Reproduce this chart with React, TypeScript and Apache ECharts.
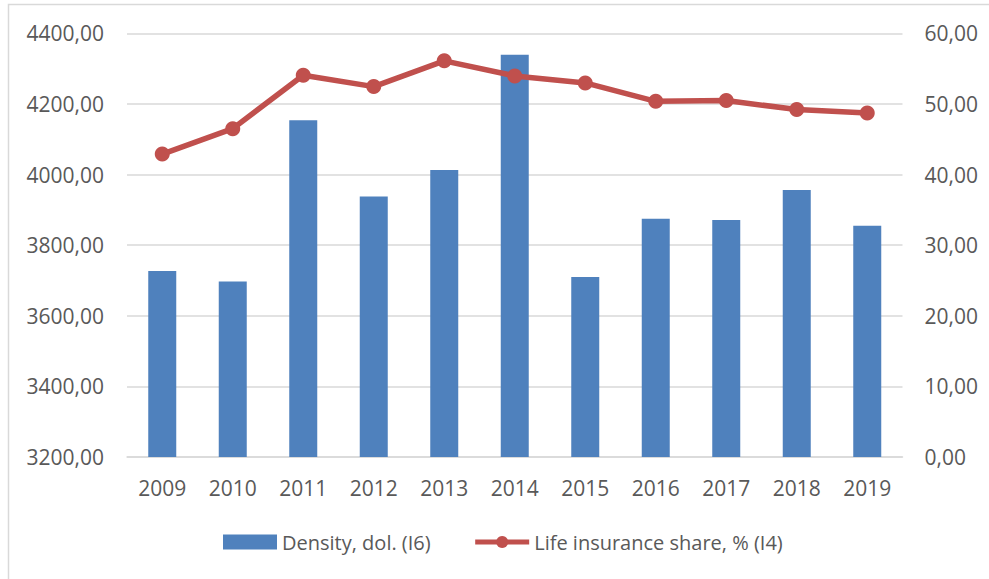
import React, { useEffect, useRef } from "react";
import * as echarts from "echarts";

const years = ["2009", "2010", "2011", "2012", "2013", "2014", "2015", "2016", "2017", "2018", "2019"];
const density = [3727, 3697, 4154, 3938, 4013, 4339, 3710, 3875, 3871, 3956, 3855];
const lifeShare = [42.9, 46.5, 54.05, 52.45, 56.1, 53.96, 52.97, 50.37, 50.47, 49.2, 48.7];
const densityName = "Density, dol. (I6)";
const shareName = "Life insurance share, % (I4)";

const FONT = "'Open Sans', sans-serif";
const TXT = "#595959";
const fmt = (v: number) => v.toFixed(2).replace(".", ",");

export default function App() {
  const ref = useRef<HTMLDivElement>(null);
  useEffect(() => {
    if (!ref.current) return;
    const chart = echarts.init(ref.current, undefined, { renderer: "svg" });
    chart.setOption({
      animation: false,
      backgroundColor: "#ffffff",
      textStyle: { fontFamily: FONT },
      graphic: [
        {
          type: "rect",
          shape: { x: 8.5, y: 4.5, width: 1000, height: 600 },
          style: { fill: "none", stroke: "#d9d9d9", lineWidth: 1.5 },
          silent: true,
        },
      ],
      grid: { left: 127, right: 86.5, top: 33.3, bottom: 122, containLabel: false },
      legend: {
        left: 218,
        top: 527,
        itemWidth: 54,
        itemHeight: 15,
        itemGap: 42,
        textStyle: { color: TXT, fontSize: 20, fontFamily: FONT },
        data: [
          { name: densityName, icon: "rect" },
          { name: shareName, lineStyle: { width: 5, color: "#c0504d" } },
        ],
      },
      xAxis: {
        type: "category",
        data: years,
        axisLine: { lineStyle: { color: "#d9d9d9", width: 1.5 } },
        axisTick: { show: false },
        axisLabel: { color: TXT, fontSize: 21, margin: 20, fontFamily: FONT },
      },
      yAxis: [
        {
          type: "value",
          min: 3200,
          max: 4400,
          interval: 200,
          axisLine: { show: false },
          axisTick: { show: false },
          splitLine: { lineStyle: { color: "#d9d9d9", width: 1.5 } },
          axisLabel: { color: TXT, fontSize: 21, margin: 23, formatter: fmt, fontFamily: FONT },
        },
        {
          type: "value",
          min: 0,
          max: 60,
          interval: 10,
          axisLine: { show: false },
          axisTick: { show: false },
          splitLine: { show: false },
          axisLabel: { color: TXT, fontSize: 21, margin: 22, formatter: fmt, fontFamily: FONT },
        },
      ],
      series: [
        {
          name: densityName,
          type: "bar",
          data: density,
          barWidth: 28,
          itemStyle: { color: "#4f81bd" },
          yAxisIndex: 0,
        },
        {
          name: shareName,
          type: "line",
          data: lifeShare,
          yAxisIndex: 1,
          symbol: "circle",
          symbolSize: 15,
          lineStyle: { color: "#c0504d", width: 5.5 },
          itemStyle: { color: "#c0504d" },
        },
      ],
    });
    return () => chart.dispose();
  }, []);
  return (
    <div
      ref={ref}
      style={{ position: "fixed", left: 0, top: 0, width: 989, height: 579 }}
    />
  );
}
